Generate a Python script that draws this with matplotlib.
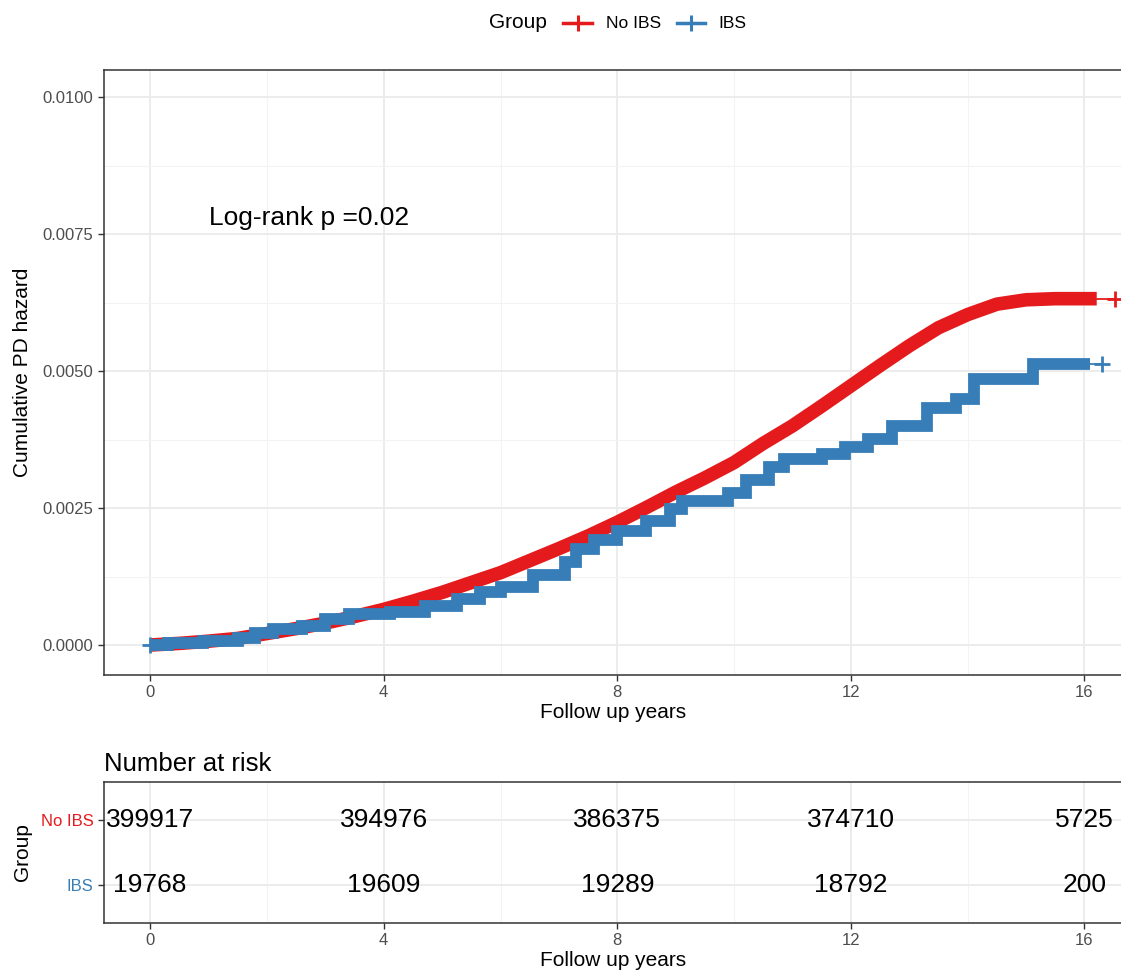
import matplotlib
matplotlib.use("Agg")
import matplotlib.pyplot as plt
from matplotlib.lines import Line2D
from matplotlib.ticker import MultipleLocator

plt.rcParams['font.family'] = ['Liberation Sans', 'DejaVu Sans']

# ---- data -------------------------------------------------------------
group_names = ["No IBS", "IBS"]
group_colors = ["#E41A1C", "#377EB8"]

# cumulative hazard, No IBS group (nearly continuous curve)
no_ibs_time = [0, 0.5, 1, 1.5, 2, 2.5, 3, 3.5, 4, 4.5, 5, 5.5, 6, 6.5, 7,
               7.5, 8, 8.5, 9, 9.5, 10, 10.5, 11, 11.5, 12, 12.5, 13, 13.5,
               14, 14.5, 15, 15.5, 16, 16.21]
no_ibs_hazard = [0.0, 0.00003, 0.00007, 0.00012, 0.00021, 0.00030, 0.00040,
                 0.00052, 0.00065, 0.00080, 0.00096, 0.00114, 0.00132,
                 0.00154, 0.00176, 0.00199, 0.00224, 0.00251, 0.00279,
                 0.00305, 0.00333, 0.00368, 0.00400, 0.00436, 0.00473,
                 0.00510, 0.00546, 0.00579, 0.00603, 0.00622, 0.00630,
                 0.00632, 0.00632, 0.00632]
no_ibs_last_censor = 16.52

# cumulative hazard, IBS group (step function: event times and levels)
ibs_time = [0, 0.3, 0.9, 1.5, 1.8, 2.1, 2.6, 3.0, 3.4, 4.1, 4.7, 5.25, 5.65,
            6.0, 6.55, 7.1, 7.3, 7.6, 8.0, 8.5, 8.9, 9.1, 9.9, 10.2, 10.6,
            10.85, 11.5, 11.9, 12.3, 12.7, 13.3, 13.8, 14.1, 15.12, 16.1]
ibs_hazard = [0.0, 0.00003, 0.00008, 0.00013, 0.00022, 0.00030, 0.00034,
              0.00048, 0.00057, 0.00061, 0.00071, 0.00084, 0.00096, 0.00106,
              0.00128, 0.00152, 0.00175, 0.00192, 0.00208, 0.00226, 0.00248,
              0.00262, 0.00277, 0.00302, 0.00324, 0.00340, 0.00349, 0.00361,
              0.00376, 0.00400, 0.00433, 0.00449, 0.00486, 0.00513, 0.00513]
ibs_last_censor = 16.3

risk_times = [0, 4, 8, 12, 16]
risk_no_ibs = [399917, 394976, 386375, 374710, 5725]
risk_ibs = [19768, 19609, 19289, 18792, 200]

pval_label = "Log-rank p =0.02"

# ---- figure ------------------------------------------------------------
W, H = 1121, 973
fig = plt.figure(figsize=(W / 100, H / 100), dpi=100)

grid_major = "#EBEBEB"
grid_minor = "#F3F3F3"
axis_dark = "#333333"
tick_text = "#4D4D4D"
xlim = (-0.79, 16.66)


def style_axes(ax):
    for s in ax.spines.values():
        s.set_color(axis_dark)
        s.set_linewidth(1.1)
    ax.tick_params(axis="both", which="major", length=4, width=1.0,
                   color=axis_dark, labelcolor=tick_text, labelsize=12)
    ax.tick_params(axis="both", which="minor", length=0)
    ax.grid(True, which="major", color=grid_major, lw=1.3)
    ax.set_axisbelow(True)


# main cumulative hazard panel
ax = fig.add_axes([104 / W, 1 - 675 / H, (1123 - 104) / W, (675 - 70) / H])
style_axes(ax)
ax.set_xlim(*xlim)
ax.set_ylim(-0.000547, 0.010493)
ax.xaxis.set_major_locator(MultipleLocator(4))
ax.xaxis.set_minor_locator(MultipleLocator(2))
ax.set_yticks([0, 0.0025, 0.005, 0.0075, 0.01])
ax.set_yticks([0.00125, 0.00375, 0.00625, 0.00875], minor=True)
ax.set_yticklabels(["0.0000", "0.0025", "0.0050", "0.0075", "0.0100"])
ax.grid(True, which="minor", color=grid_minor, lw=0.8)

red, blue = group_colors

# No IBS: dense censoring marks form a solid band along the curve
ax.plot(no_ibs_time, no_ibs_hazard, color=red, lw=9.8,
        solid_capstyle="butt", solid_joinstyle="round", zorder=3)
ax.plot([no_ibs_time[-1], no_ibs_last_censor],
        [no_ibs_hazard[-1], no_ibs_hazard[-1]], color=red, lw=1.3, zorder=3)
ax.plot([no_ibs_last_censor], [no_ibs_hazard[-1]], color=red, marker="+",
        ms=12, mew=2, zorder=3)

# IBS: step curve with censoring marks
ax.step(ibs_time, ibs_hazard, where="post", color=blue, lw=8.5,
        solid_capstyle="butt", solid_joinstyle="miter", zorder=4)
ax.plot([ibs_time[-1], ibs_last_censor], [ibs_hazard[-1], ibs_hazard[-1]],
        color=blue, lw=1.3, zorder=4)
ax.plot([ibs_last_censor], [ibs_hazard[-1]], color=blue, marker="+",
        ms=12, mew=2, zorder=4)
ax.plot([0], [0], color=blue, marker="+", ms=12, mew=2, zorder=4)

ax.text(1.0, 0.0078, pval_label, fontsize=19, ha="left", va="center",
        color="black")
ax.set_xlabel("Follow up years", fontsize=15, labelpad=2)
ax.set_ylabel("Cumulative PD hazard", fontsize=15, labelpad=8)

# risk table
tab = fig.add_axes([104 / W, 1 - 922.7 / H, (1123 - 104) / W,
                    (922.7 - 781.7) / H])
style_axes(tab)
tab.set_xlim(*xlim)
tab.set_ylim(0.42, 2.589)
tab.xaxis.set_major_locator(MultipleLocator(4))
tab.xaxis.set_minor_locator(MultipleLocator(2))
tab.grid(True, which="minor", axis="x", color=grid_minor, lw=0.8)
tab.set_yticks([2, 1])
tab.set_yticklabels(group_names, fontsize=12)
for lbl, c in zip(tab.get_yticklabels(), group_colors):
    lbl.set_color(c)
for t, n_a, n_b in zip(risk_times, risk_no_ibs, risk_ibs):
    tab.text(t, 2, str(n_a), fontsize=19, ha="center", va="center")
    tab.text(t, 1, str(n_b), fontsize=19, ha="center", va="center")
tab.set_xlabel("Follow up years", fontsize=15, labelpad=2)
tab.set_ylabel("Group", fontsize=15, labelpad=6)
tab.set_title("Number at risk", fontsize=18.5, loc="left", pad=8)

# legend across the top
ly = 1 - 23 / H
fig.text(518 / W, ly, "Group", fontsize=15, ha="center", va="center")
for (x0, x1, tx), name, c in zip([(563, 592, 606), (677, 705, 718)],
                                 group_names, group_colors):
    fig.add_artist(Line2D([x0 / W, x1 / W], [ly, ly], color=c, lw=2.5))
    fig.add_artist(Line2D([(x0 + x1) / 2 / W], [ly], color=c, marker="+",
                          ms=11, mew=2.2))
    fig.text(tx / W, ly, name, fontsize=12.5, ha="left", va="center")

fig.savefig("out.png", dpi=100)
